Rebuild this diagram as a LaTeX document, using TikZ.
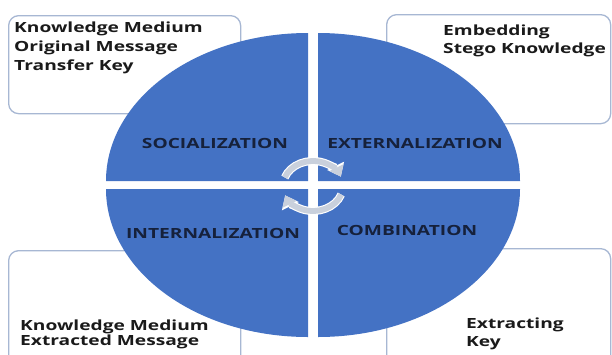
\documentclass[tikz,border=0pt]{standalone}
\usepackage{fontspec}
\setmainfont{Open Sans}[FakeStretch=1.37]
\usetikzlibrary{arrows.meta}
\definecolor{quad}{HTML}{4472C4}
\definecolor{boxline}{HTML}{A7B7D3}
\definecolor{cyc}{HTML}{C9D0DC}
\definecolor{lbl}{HTML}{16213B}
\definecolor{txt}{HTML}{1A1A1A}
\begin{document}
\begin{tikzpicture}[x=1pt,y=-1pt,
  cornerbox/.style={draw=boxline, line width=1.3pt, rounded corners=10pt, fill=white, anchor=north west, inner sep=0pt},
  boxtext/.style={font=\bfseries\fontsize{14}{19}\selectfont, text=txt, inner sep=0pt, anchor=base west},
  quadlabel/.style={font=\bfseries\fontsize{14}{16}\selectfont, text=lbl, inner sep=0pt, anchor=base},
  quarter/.style={fill=quad},
  cycunder/.style={draw=white, line width=8pt, -{Triangle[length=12pt,width=18pt]}},
  cyclearrow/.style={draw=cyc, line width=5.8pt, -{Triangle[length=10pt,width=15pt]}}]

\useasboundingbox (0,0) rectangle (612,354);
\clip (0,0) rectangle (612,354);

% corner boxes
\node[cornerbox, minimum width=232pt, minimum height=98pt] (boxTL) at (8,15) {};
\node[cornerbox, minimum width=224pt, minimum height=109pt] (boxTR) at (386,14) {};
\node[cornerbox, minimum width=232pt, minimum height=115pt] (boxBL) at (8,250) {};
\node[cornerbox, minimum width=224pt, minimum height=117pt] (boxBR) at (386,248) {};

% box texts
\node[boxtext] (tl1) at (14,32.7) {Knowledge Medium};
\node[boxtext] (tl2) at (14,51.7) {Original Message};
\node[boxtext] (tl3) at (14,70.7) {Transfer Key};
\node[boxtext] (tr1) at (443,35) {Embedding};
\node[boxtext] (tr2) at (443,53.5) {Stego Knowledge};
\node[boxtext] (bl1) at (20,330) {Knowledge Medium};
\node[boxtext] (bl2) at (20,345.5) {Extracted Message};
\node[boxtext] (br1) at (466,328) {Extracting};
\node[boxtext] (br2) at (466,346) {Key};

% four quarter pieces
\fill[quarter] (308,181) -- ++(-202,0) arc[start angle=180, end angle=270, x radius=202, y radius=148] -- cycle;
\fill[quarter] (318,181) -- ++(0,-148) arc[start angle=270, end angle=360, x radius=202, y radius=148] -- cycle;
\fill[quarter] (318,189) -- ++(202,0) arc[start angle=0, end angle=90, x radius=202, y radius=148] -- cycle;
\fill[quarter] (308,189) -- ++(0,148) arc[start angle=90, end angle=180, x radius=202, y radius=148] -- cycle;

% quadrant labels
\node[quadlabel] (soc) at (215,148) {SOCIALIZATION};
\node[quadlabel] (ext) at (415,148) {EXTERNALIZATION};
\node[quadlabel] (int) at (213,238) {INTERNALIZATION};
\node[quadlabel] (com) at (407,235) {COMBINATION};

% central cycle arrows
\draw[cycunder] ([shift={(200:30 and 25)}]313,186) arc[start angle=200, end angle=338, x radius=30, y radius=25];
\draw[cyclearrow] ([shift={(200:30 and 25)}]313,186) arc[start angle=200, end angle=338, x radius=30, y radius=25];
\draw[cycunder] ([shift={(20:30 and 25)}]313,186) arc[start angle=20, end angle=158, x radius=30, y radius=25];
\draw[cyclearrow] ([shift={(20:30 and 25)}]313,186) arc[start angle=20, end angle=158, x radius=30, y radius=25];
\end{tikzpicture}
\end{document}
